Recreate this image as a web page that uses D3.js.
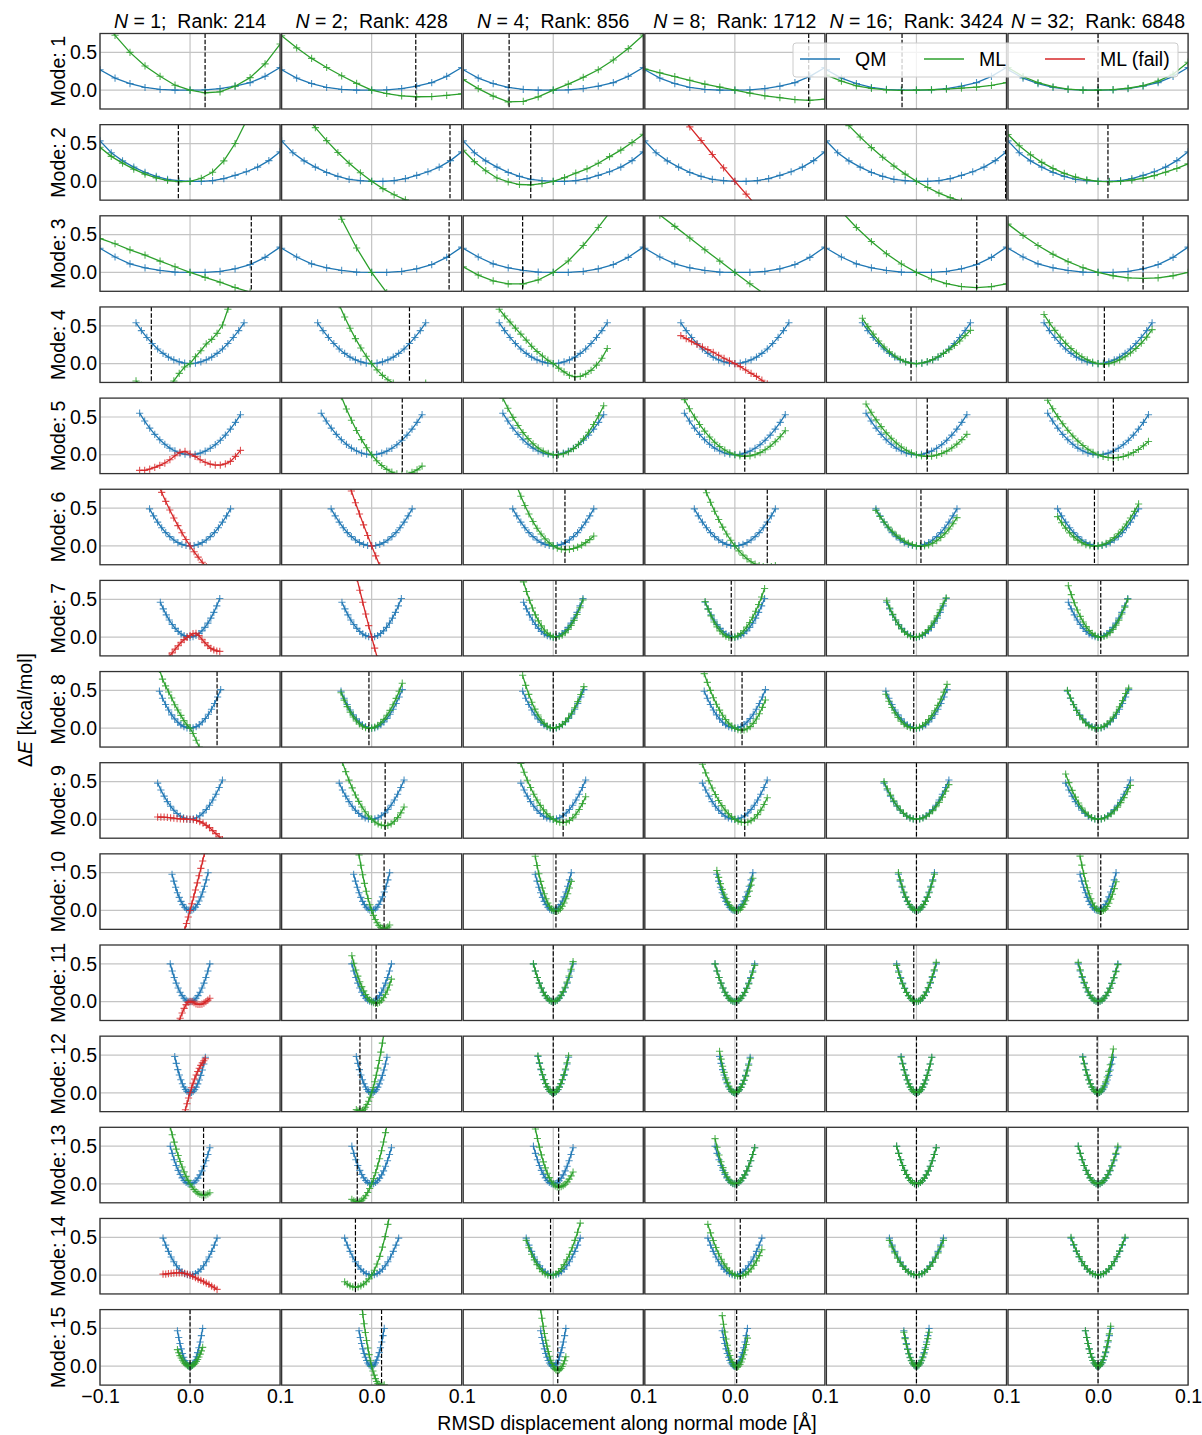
<!DOCTYPE html>
<html><head><meta charset="utf-8">
<script src="https://cdn.jsdelivr.net/npm/d3@7"></script>
<style>body{margin:0;background:#fff} text{font-family:"Liberation Sans",Arial,sans-serif}</style>
</head><body><svg id="c" width="1202" height="1435"></svg>
<script>
const modes = [1,2,3,4,5,6,7,8,9,10,11,12,13,14,15];
const nValues = [1,2,4,8,16,32];
const ranks = [214,428,856,1712,3424,6848];
const xTicks = [-0.1,0,0.1];
const yTicks = [0,0.5];

const displacement = [
 [-0.1,-0.0833,-0.0667,-0.05,-0.0333,-0.0167,0,0.0167,0.0333,0.05,0.0667,0.0833,0.1],
 [-0.1,-0.0875,-0.075,-0.0625,-0.05,-0.0375,-0.025,-0.0125,0,0.0125,0.025,0.0375,0.05,0.0625,0.075,0.0875,0.1],
 [-0.1,-0.0833,-0.0667,-0.05,-0.0333,-0.0167,0,0.0167,0.0333,0.05,0.0667,0.0833,0.1],
 [-0.06,-0.054,-0.048,-0.042,-0.036,-0.03,-0.024,-0.018,-0.012,-0.006,0,0.006,0.012,0.018,0.024,0.03,0.036,0.042,0.048,0.054,0.06],
 [-0.056,-0.0504,-0.0448,-0.0392,-0.0336,-0.028,-0.0224,-0.0168,-0.0112,-0.0056,0,0.0056,0.0112,0.0168,0.0224,0.028,0.0336,0.0392,0.0448,0.0504,0.056],
 [-0.045,-0.0405,-0.036,-0.0315,-0.027,-0.0225,-0.018,-0.0135,-0.009,-0.0045,0,0.0045,0.009,0.0135,0.018,0.0225,0.027,0.0315,0.036,0.0405,0.045],
 [-0.033,-0.0297,-0.0264,-0.0231,-0.0198,-0.0165,-0.0132,-0.0099,-0.0066,-0.0033,0,0.0033,0.0066,0.0099,0.0132,0.0165,0.0198,0.0231,0.0264,0.0297,0.033],
 [-0.034,-0.0306,-0.0272,-0.0238,-0.0204,-0.017,-0.0136,-0.0102,-0.0068,-0.0034,0,0.0034,0.0068,0.0102,0.0136,0.017,0.0204,0.0238,0.0272,0.0306,0.034],
 [-0.036,-0.0324,-0.0288,-0.0252,-0.0216,-0.018,-0.0144,-0.0108,-0.0072,-0.0036,0,0.0036,0.0072,0.0108,0.0144,0.018,0.0216,0.0252,0.0288,0.0324,0.036],
 [-0.02,-0.018,-0.016,-0.014,-0.012,-0.01,-0.008,-0.006,-0.004,-0.002,0,0.002,0.004,0.006,0.008,0.01,0.012,0.014,0.016,0.018,0.02],
 [-0.022,-0.0198,-0.0176,-0.0154,-0.0132,-0.011,-0.0088,-0.0066,-0.0044,-0.0022,0,0.0022,0.0044,0.0066,0.0088,0.011,0.0132,0.0154,0.0176,0.0198,0.022],
 [-0.017,-0.0153,-0.0136,-0.0119,-0.0102,-0.0085,-0.0068,-0.0051,-0.0034,-0.0017,0,0.0017,0.0034,0.0051,0.0068,0.0085,0.0102,0.0119,0.0136,0.0153,0.017],
 [-0.022,-0.0198,-0.0176,-0.0154,-0.0132,-0.011,-0.0088,-0.0066,-0.0044,-0.0022,0,0.0022,0.0044,0.0066,0.0088,0.011,0.0132,0.0154,0.0176,0.0198,0.022],
 [-0.03,-0.027,-0.024,-0.021,-0.018,-0.015,-0.012,-0.009,-0.006,-0.003,0,0.003,0.006,0.009,0.012,0.015,0.018,0.021,0.024,0.027,0.03],
 [-0.014,-0.0126,-0.0112,-0.0098,-0.0084,-0.007,-0.0056,-0.0042,-0.0028,-0.0014,0,0.0014,0.0028,0.0042,0.0056,0.007,0.0084,0.0098,0.0112,0.0126,0.014]
];

const qmEnergy = [
 [0.27,0.16,0.087,0.035,0.009,0.0,0,0.004,0.02,0.052,0.1,0.183,0.3],
 [0.535,0.378,0.27,0.187,0.117,0.065,0.026,0.009,0,0,0.009,0.035,0.078,0.126,0.187,0.274,0.39],
 [0.32,0.204,0.113,0.061,0.026,0.004,0,0,0.013,0.048,0.104,0.2,0.335],
 [0.54,0.437,0.346,0.265,0.194,0.135,0.086,0.049,0.022,0.005,0,0.005,0.022,0.049,0.086,0.135,0.194,0.265,0.346,0.437,0.54],
 [0.55,0.446,0.352,0.27,0.198,0.138,0.088,0.05,0.022,0.006,0,0.005,0.021,0.048,0.085,0.133,0.191,0.26,0.339,0.429,0.53],
 [0.49,0.397,0.314,0.24,0.176,0.123,0.078,0.044,0.02,0.005,0,0.005,0.02,0.044,0.078,0.123,0.176,0.24,0.314,0.397,0.49],
 [0.46,0.373,0.294,0.225,0.166,0.115,0.074,0.041,0.018,0.005,0,0.005,0.02,0.046,0.082,0.128,0.184,0.25,0.326,0.413,0.51],
 [0.49,0.397,0.314,0.24,0.176,0.123,0.078,0.044,0.02,0.005,0,0.005,0.02,0.046,0.082,0.128,0.184,0.25,0.326,0.413,0.51],
 [0.48,0.389,0.307,0.235,0.173,0.12,0.077,0.043,0.019,0.005,0,0.005,0.021,0.047,0.083,0.13,0.187,0.255,0.333,0.421,0.52],
 [0.48,0.389,0.307,0.235,0.173,0.12,0.077,0.043,0.019,0.005,0,0.005,0.02,0.045,0.08,0.125,0.18,0.245,0.32,0.405,0.5],
 [0.5,0.405,0.32,0.245,0.18,0.125,0.08,0.045,0.02,0.005,0,0.005,0.02,0.045,0.08,0.125,0.18,0.245,0.32,0.405,0.5],
 [0.48,0.389,0.307,0.235,0.173,0.12,0.077,0.043,0.019,0.005,0,0.005,0.019,0.042,0.075,0.118,0.169,0.23,0.301,0.381,0.47],
 [0.5,0.405,0.32,0.245,0.18,0.125,0.08,0.045,0.02,0.005,0,0.005,0.019,0.043,0.077,0.12,0.173,0.235,0.307,0.389,0.48],
 [0.49,0.397,0.314,0.24,0.176,0.123,0.078,0.044,0.02,0.005,0,0.005,0.02,0.044,0.078,0.123,0.176,0.24,0.314,0.397,0.49],
 [0.47,0.381,0.301,0.23,0.169,0.118,0.075,0.042,0.019,0.005,0,0.005,0.02,0.045,0.08,0.125,0.18,0.245,0.32,0.405,0.5]
];

const mlEnergy = [
 [ [0.98,0.726,0.5,0.32,0.183,0.065,0,-0.035,-0.022,0.052,0.165,0.348,0.61],
   [0.72,0.56,0.42,0.3,0.19,0.09,0,-0.045,-0.075,-0.088,-0.085,-0.07,-0.05],
   [0.14,0.02,-0.08,-0.155,-0.15,-0.09,0,0.08,0.17,0.27,0.4,0.55,0.73],
   [0.28,0.23,0.18,0.13,0.08,0.04,0,-0.04,-0.075,-0.1,-0.125,-0.135,-0.12],
   [0.2,0.118,0.057,0.022,0.003,-0.004,0,0.005,0.013,0.026,0.04,0.062,0.1],
   [0.3,0.18,0.1,0.045,0.012,0.0,0,0.006,0.025,0.06,0.12,0.21,0.37] ],
 [ [0.45,0.33,0.24,0.16,0.095,0.045,0.01,-0.005,0,0.04,0.12,0.27,0.5,0.8,1.15,1.5,1.9],
   [1.315,1.098,0.896,0.71,0.538,0.381,0.239,0.112,0,-0.097,-0.179,-0.246,-0.298,-0.335,-0.356,-0.363,-0.355],
   [0.41,0.26,0.14,0.043,-0.009,-0.043,-0.048,-0.03,0,0.048,0.109,0.165,0.239,0.326,0.413,0.513,0.622],
   [1.5,1.3,1.1,0.91,0.72,0.54,0.355,0.177,0,-0.17,-0.34,-0.5,-0.67,-0.83,-1.0,-1.17,-1.33],
   [1.073,0.899,0.737,0.586,0.446,0.318,0.201,0.095,0,-0.083,-0.156,-0.217,-0.266,-0.305,-0.332,-0.348,-0.353],
   [0.62,0.47,0.35,0.25,0.17,0.105,0.055,0.02,0,-0.005,0.0,0.015,0.04,0.075,0.12,0.17,0.23] ],
 [ [0.45,0.38,0.3,0.23,0.15,0.075,0,-0.065,-0.13,-0.2,-0.26,-0.3,-0.33],
   [2.8,2.19,1.64,1.143,0.705,0.324,0,-0.267,-0.48,-0.63,-0.72,-0.76,-0.74],
   [0.074,-0.035,-0.113,-0.152,-0.152,-0.1,0,0.152,0.357,0.596,0.857,1.15,1.47],
   [0.92,0.76,0.61,0.455,0.3,0.15,0,-0.15,-0.29,-0.43,-0.56,-0.69,-0.8],
   [1.041,0.806,0.596,0.409,0.248,0.112,0,-0.087,-0.149,-0.187,-0.2,-0.188,-0.151],
   [0.64,0.489,0.356,0.24,0.142,0.062,0,-0.044,-0.071,-0.08,-0.071,-0.044,0] ],
 [ [-0.23,-0.29,-0.34,-0.37,-0.38,-0.36,-0.31,-0.23,-0.13,-0.045,0,0.09,0.17,0.26,0.32,0.4,0.51,0.72,0.95,1.2,1.45],
   [1.555,1.341,1.14,0.953,0.778,0.616,0.467,0.33,0.207,0.097,0,-0.084,-0.156,-0.214,-0.259,-0.292,-0.311,-0.318,-0.311,-0.292,-0.259],
   [0.72,0.63,0.55,0.47,0.39,0.31,0.23,0.16,0.1,0.045,0,-0.06,-0.11,-0.155,-0.175,-0.17,-0.14,-0.09,-0.02,0.07,0.2],
   [0.37,0.33,0.29,0.255,0.22,0.185,0.15,0.11,0.07,0.035,0,-0.04,-0.085,-0.13,-0.17,-0.22,-0.27,-0.32,-0.37,-0.42,-0.47],
   [0.6,0.49,0.39,0.3,0.22,0.155,0.1,0.055,0.022,0.004,0,0.007,0.025,0.052,0.09,0.135,0.185,0.24,0.3,0.37,0.44],
   [0.65,0.54,0.44,0.35,0.27,0.2,0.14,0.09,0.05,0.02,0,-0.005,0.0,0.02,0.05,0.09,0.14,0.2,0.27,0.35,0.45] ],
 [ [-0.207,-0.207,-0.19,-0.168,-0.141,-0.11,-0.066,-0.013,0.031,0.044,0.01,-0.022,-0.066,-0.1,-0.124,-0.137,-0.137,-0.12,-0.088,-0.022,0.057],
   [1.562,1.343,1.137,0.946,0.768,0.605,0.456,0.321,0.2,0.093,0,-0.079,-0.143,-0.194,-0.23,-0.252,-0.26,-0.254,-0.234,-0.2,-0.151],
   [0.75,0.615,0.495,0.388,0.294,0.213,0.145,0.09,0.048,0.019,0,0,0.012,0.039,0.081,0.138,0.21,0.297,0.4,0.517,0.649],
   [0.73,0.609,0.5,0.401,0.312,0.234,0.166,0.109,0.062,0.026,0,-0.015,-0.02,-0.015,0.001,0.028,0.065,0.113,0.171,0.239,0.318],
   [0.672,0.562,0.462,0.372,0.29,0.218,0.156,0.103,0.059,0.025,0,-0.015,-0.022,-0.018,-0.005,0.017,0.048,0.089,0.14,0.2,0.269],
   [0.721,0.608,0.505,0.41,0.325,0.248,0.181,0.122,0.072,0.032,0,-0.023,-0.037,-0.041,-0.037,-0.024,-0.002,0.029,0.069,0.118,0.176] ],
 [ [1.1,0.963,0.832,0.708,0.589,0.476,0.369,0.268,0.173,0.084,0,-0.078,-0.149,-0.216,-0.275,-0.33,-0.377,-0.42,-0.456,-0.487,-0.512],
   [1.55,1.379,1.21,1.044,0.883,0.726,0.572,0.423,0.278,0.137,0,-0.133,-0.262,-0.387,-0.508,-0.624,-0.737,-0.846,-0.95,-1.05,-1.15],
   [0.942,0.794,0.658,0.534,0.422,0.322,0.233,0.157,0.093,0.04,0,-0.029,-0.045,-0.05,-0.046,-0.034,-0.016,0.01,0.043,0.083,0.13],
   [1.137,0.984,0.84,0.704,0.577,0.459,0.35,0.249,0.157,0.074,0,-0.066,-0.122,-0.171,-0.21,-0.241,-0.262,-0.276,-0.28,-0.276,-0.262],
   [0.47,0.389,0.316,0.25,0.193,0.142,0.099,0.064,0.037,0.017,0,-0.004,-0.001,0.012,0.035,0.068,0.11,0.161,0.223,0.294,0.374],
   [0.388,0.306,0.235,0.172,0.119,0.076,0.042,0.017,0.002,-0.004,0,0.013,0.035,0.067,0.109,0.16,0.22,0.29,0.369,0.457,0.555] ],
 [ [-0.42,-0.36,-0.31,-0.26,-0.21,-0.16,-0.115,-0.07,-0.035,-0.005,0.02,0.045,0.05,0.02,-0.03,-0.075,-0.115,-0.15,-0.17,-0.185,-0.19],
   [1.65,1.469,1.293,1.12,0.95,0.784,0.62,0.461,0.304,0.151,0,-0.147,-0.29,-0.431,-0.568,-0.702,-0.83,-0.95,-1.07,-1.18,-1.3],
   [0.73,0.602,0.487,0.384,0.293,0.214,0.148,0.094,0.052,0.022,0,0,0.007,0.026,0.057,0.099,0.154,0.22,0.298,0.388,0.49],
   [0.47,0.37,0.28,0.2,0.135,0.081,0.04,0.012,-0.004,-0.008,0,0.017,0.045,0.084,0.133,0.192,0.261,0.341,0.431,0.531,0.642],
   [0.48,0.385,0.3,0.225,0.16,0.107,0.065,0.033,0.011,0.0,0,0.01,0.03,0.06,0.1,0.15,0.21,0.28,0.36,0.44,0.52],
   [0.68,0.561,0.454,0.358,0.273,0.2,0.138,0.087,0.048,0.021,0,0,0.007,0.026,0.058,0.101,0.157,0.224,0.304,0.396,0.5] ],
 [ [0.78,0.65,0.56,0.48,0.4,0.31,0.24,0.17,0.1,0.045,0,-0.07,-0.16,-0.25,-0.33,-0.41,-0.48,-0.55,-0.61,-0.67,-0.72],
   [0.47,0.372,0.286,0.212,0.148,0.096,0.055,0.025,0.007,-0.004,0,0.014,0.038,0.072,0.117,0.171,0.236,0.31,0.395,0.49,0.596],
   [0.7,0.567,0.448,0.343,0.252,0.175,0.112,0.063,0.028,0.007,0,0.006,0.022,0.05,0.088,0.138,0.198,0.27,0.352,0.446,0.55],
   [0.723,0.606,0.5,0.403,0.316,0.239,0.171,0.114,0.066,0.028,0,-0.018,-0.027,-0.024,-0.008,0.021,0.064,0.121,0.191,0.275,0.373],
   [0.45,0.356,0.274,0.203,0.142,0.092,0.053,0.024,0.006,-0.003,0,0.013,0.036,0.07,0.113,0.166,0.229,0.302,0.385,0.478,0.58],
   [0.5,0.4,0.31,0.235,0.168,0.112,0.068,0.034,0.012,0.001,0,0.008,0.027,0.057,0.097,0.148,0.21,0.282,0.365,0.46,0.53] ],
 [ [0.03,0.03,0.028,0.025,0.02,0.015,0.01,0.006,0.003,0.001,0,-0.005,-0.015,-0.03,-0.05,-0.08,-0.11,-0.15,-0.19,-0.23,-0.27],
   [0.886,0.754,0.632,0.519,0.416,0.322,0.238,0.164,0.1,0.045,0,-0.036,-0.061,-0.077,-0.084,-0.079,-0.06,-0.026,0.023,0.086,0.163],
   [0.739,0.624,0.518,0.421,0.333,0.255,0.185,0.125,0.074,0.032,0,-0.024,-0.038,-0.043,-0.037,-0.016,0.019,0.068,0.131,0.208,0.3],
   [0.73,0.615,0.51,0.415,0.328,0.25,0.182,0.123,0.073,0.032,0,-0.024,-0.038,-0.043,-0.038,-0.018,0.015,0.062,0.122,0.196,0.285],
   [0.5,0.405,0.32,0.245,0.18,0.125,0.08,0.045,0.02,0.005,0,0.005,0.018,0.041,0.074,0.115,0.166,0.225,0.294,0.373,0.46],
   [0.6,0.486,0.384,0.294,0.216,0.15,0.096,0.054,0.024,0.006,0,0.005,0.018,0.041,0.072,0.113,0.162,0.221,0.288,0.365,0.45] ],
 [ [-0.8,-0.727,-0.653,-0.577,-0.499,-0.42,-0.339,-0.257,-0.173,-0.087,0,0.089,0.179,0.271,0.365,0.46,0.557,0.655,0.755,0.857,0.96],
   [1.2,1.034,0.879,0.734,0.599,0.474,0.359,0.254,0.159,0.075,0,-0.065,-0.119,-0.163,-0.198,-0.222,-0.236,-0.24,-0.234,-0.218,-0.192],
   [0.718,0.596,0.486,0.386,0.298,0.221,0.155,0.099,0.055,0.022,0,-0.011,-0.011,0,0.022,0.055,0.099,0.155,0.221,0.298,0.386],
   [0.53,0.438,0.355,0.28,0.215,0.158,0.11,0.07,0.039,0.018,0,-0.004,0.001,0.017,0.044,0.081,0.129,0.187,0.256,0.336,0.426],
   [0.5,0.405,0.32,0.245,0.18,0.125,0.08,0.045,0.02,0.005,0,0.005,0.019,0.043,0.077,0.12,0.173,0.235,0.307,0.389,0.48],
   [0.72,0.6,0.49,0.39,0.3,0.222,0.155,0.099,0.055,0.022,0,-0.011,-0.011,0,0.021,0.053,0.096,0.15,0.215,0.29,0.38] ],
 [ [-0.6,-0.52,-0.44,-0.36,-0.28,-0.22,-0.15,-0.09,-0.04,-0.01,0.005,0,-0.015,-0.03,-0.037,-0.038,-0.032,-0.02,0,0.02,0.045],
   [0.608,0.509,0.419,0.338,0.264,0.199,0.143,0.094,0.054,0.023,0,-0.015,-0.022,-0.019,-0.006,0.018,0.052,0.098,0.154,0.22,0.298],
   [0.5,0.405,0.32,0.245,0.18,0.125,0.08,0.045,0.02,0.005,0,0.005,0.021,0.048,0.085,0.133,0.191,0.26,0.339,0.429,0.53],
   [0.5,0.405,0.32,0.245,0.18,0.125,0.08,0.045,0.02,0.005,0,0.005,0.019,0.043,0.077,0.12,0.173,0.235,0.307,0.389,0.48],
   [0.48,0.389,0.307,0.235,0.173,0.12,0.077,0.043,0.019,0.005,0,0.005,0.021,0.047,0.083,0.13,0.187,0.255,0.333,0.421,0.52],
   [0.52,0.421,0.333,0.255,0.187,0.13,0.083,0.047,0.021,0.005,0,0.005,0.02,0.044,0.078,0.123,0.176,0.24,0.314,0.397,0.49] ],
 [ [-0.911,-0.799,-0.692,-0.589,-0.491,-0.398,-0.309,-0.225,-0.145,-0.07,0,0.066,0.127,0.183,0.235,0.282,0.325,0.363,0.396,0.425,0.45],
   [-0.223,-0.239,-0.246,-0.245,-0.235,-0.217,-0.191,-0.156,-0.112,-0.06,0,0.069,0.146,0.232,0.326,0.428,0.539,0.658,0.786,0.922,1.067],
   [0.49,0.397,0.314,0.24,0.176,0.123,0.078,0.044,0.02,0.005,0,0.005,0.02,0.044,0.078,0.123,0.176,0.24,0.314,0.397,0.49],
   [0.55,0.446,0.352,0.27,0.198,0.138,0.088,0.05,0.022,0.006,0,0.005,0.018,0.041,0.072,0.113,0.162,0.221,0.288,0.365,0.45],
   [0.47,0.381,0.301,0.23,0.169,0.118,0.075,0.042,0.019,0.005,0,0.005,0.019,0.042,0.075,0.118,0.169,0.23,0.301,0.381,0.47],
   [0.47,0.381,0.301,0.23,0.169,0.118,0.075,0.042,0.019,0.005,0,0.006,0.023,0.052,0.093,0.145,0.209,0.284,0.371,0.47,0.58] ],
 [ [0.755,0.651,0.553,0.461,0.376,0.298,0.225,0.159,0.1,0.047,0,-0.04,-0.074,-0.102,-0.123,-0.138,-0.146,-0.149,-0.144,-0.133,-0.116],
   [-0.205,-0.225,-0.236,-0.238,-0.231,-0.215,-0.19,-0.156,-0.113,-0.061,0,0.07,0.149,0.237,0.334,0.44,0.555,0.679,0.812,0.953,1.105],
   [0.865,0.728,0.602,0.488,0.385,0.292,0.212,0.142,0.083,0.036,0,-0.025,-0.039,-0.042,-0.036,-0.023,-0.002,0.027,0.063,0.107,0.158],
   [0.6,0.486,0.384,0.294,0.216,0.15,0.096,0.054,0.024,0.006,0,0.005,0.019,0.043,0.077,0.12,0.173,0.235,0.307,0.389,0.48],
   [0.5,0.405,0.32,0.245,0.18,0.125,0.08,0.045,0.02,0.005,0,0.005,0.019,0.043,0.077,0.12,0.173,0.235,0.307,0.389,0.48],
   [0.5,0.405,0.32,0.245,0.18,0.125,0.08,0.045,0.02,0.005,0,0.005,0.02,0.045,0.08,0.125,0.18,0.245,0.32,0.405,0.5] ],
 [ [0.013,0.013,0.018,0.022,0.026,0.03,0.03,0.028,0.022,0.013,0,-0.018,-0.035,-0.053,-0.07,-0.088,-0.106,-0.124,-0.146,-0.168,-0.19],
   [-0.089,-0.12,-0.142,-0.156,-0.16,-0.156,-0.142,-0.12,-0.089,-0.05,0,0.063,0.146,0.248,0.37,0.511,0.672,0.853,1.05,1.27,1.51],
   [0.459,0.361,0.275,0.201,0.138,0.086,0.046,0.017,0,-0.006,0,0.017,0.046,0.086,0.138,0.201,0.275,0.361,0.459,0.568,0.688],
   [0.672,0.559,0.457,0.365,0.282,0.21,0.148,0.096,0.054,0.022,0,-0.012,-0.013,-0.005,0.013,0.042,0.081,0.129,0.188,0.257,0.336],
   [0.46,0.373,0.294,0.225,0.166,0.115,0.074,0.041,0.018,0.005,0,0.005,0.018,0.041,0.074,0.115,0.166,0.225,0.294,0.373,0.46],
   [0.5,0.405,0.32,0.245,0.18,0.125,0.08,0.045,0.02,0.005,0,0.005,0.02,0.045,0.08,0.125,0.18,0.245,0.32,0.405,0.5] ],
 [ [0.22,0.178,0.141,0.108,0.079,0.055,0.035,0.02,0.009,0.002,0,0.003,0.01,0.023,0.04,0.063,0.09,0.123,0.16,0.203,0.25],
   [1.109,0.959,0.818,0.686,0.562,0.447,0.34,0.242,0.153,0.072,0,-0.063,-0.118,-0.164,-0.202,-0.231,-0.251,-0.263,-0.266,-0.261,-0.246],
   [0.75,0.636,0.53,0.433,0.345,0.266,0.195,0.133,0.08,0.036,0,-0.027,-0.045,-0.054,-0.055,-0.047,-0.03,-0.004,0.03,0.073,0.125],
   [0.67,0.556,0.453,0.36,0.277,0.205,0.143,0.092,0.051,0.02,0,-0.01,-0.009,0.002,0.024,0.056,0.098,0.151,0.214,0.288,0.372],
   [0.45,0.365,0.288,0.221,0.162,0.113,0.072,0.041,0.018,0.005,0,0.005,0.018,0.041,0.072,0.113,0.162,0.221,0.288,0.365,0.45],
   [0.47,0.381,0.301,0.23,0.169,0.118,0.075,0.042,0.019,0.005,0,0.005,0.021,0.048,0.085,0.133,0.191,0.26,0.339,0.429,0.53] ]
];

const mlFailed = [
 [0,0,0,0,0,0],[0,0,0,1,0,0],[0,0,0,0,0,0],[0,0,0,1,0,0],[1,0,0,0,0,0],
 [1,1,0,0,0,0],[1,1,0,0,0,0],[0,0,0,0,0,0],[1,0,0,0,0,0],[1,0,0,0,0,0],
 [1,0,0,0,0,0],[1,0,0,0,0,0],[0,0,0,0,0,0],[1,0,0,0,0,0],[0,0,0,0,0,0]
];

const mlMinimum = [
 [0.0167,0.049,-0.049,0.082,-0.016,0.0],
 [-0.013,0.087,-0.025,null,0.099,0.011],
 [0.068,0.086,-0.034,null,0.067,0.05],
 [-0.043,0.042,0.024,null,-0.006,0.007],
 [null,0.034,0.004,0.011,0.012,0.017],
 [null,null,0.013,0.036,0.005,-0.004],
 [null,null,0.003,-0.004,-0.003,0.003],
 [0.03,-0.003,0.0,0.008,-0.003,-0.002],
 [null,0.015,0.011,0.011,0,0],
 [null,0.0138,0.003,0.002,0,0.003],
 [null,0.005,0,0.002,-0.003,0],
 [null,-0.013,0,0.002,0,-0.001],
 [0.015,-0.016,0.006,0.002,0,0],
 [null,-0.018,-0.003,0.006,0,0],
 [0,0.011,0.005,0.002,0,0]
];

const colors = {qm:'#1f77b4', ml:'#2ca02c', fail:'#d62728'};

const W = 1202, H = 1435, FS = 19.5;
const left0 = 100, top0 = 33.5, pw = 180.1, gx = 1.5, ph = 75.5, stepY = 91.15;
const x = d3.scaleLinear().domain([-0.1,0.1]).range([0,pw]);
const y = d3.scaleLinear().domain([-0.25,0.75]).range([ph,0]);
const fmt = d3.format('.1f');

const svg = d3.select('#c');
svg.append('rect').attr('width',W).attr('height',H).attr('fill','#fff');
svg.append('defs').append('clipPath').attr('id','pc').append('rect').attr('x',0).attr('y',0).attr('width',pw).attr('height',ph);

const line = d3.line().defined(d => d[1] != null && !isNaN(d[1])).x(d => x(d[0])).y(d => y(d[1]));

function drawSeries(g, xs, es, color) {
  const pts = xs.map((v,i) => [v, es[i]]).filter(d => d[1] != null);
  g.append('path').datum(pts).attr('d', line).attr('fill','none').attr('stroke',color).attr('stroke-width',1.3);
  g.append('g').selectAll('path').data(pts).join('path')
    .attr('d','M-3.6,0H3.6M0,-3.6V3.6')
    .attr('transform', d => `translate(${x(d[0])},${y(d[1])})`)
    .attr('stroke',color).attr('stroke-width',1.1).attr('opacity',0.8).attr('fill','none');
}

modes.forEach((m, r) => {
  nValues.forEach((n, c) => {
    const g = svg.append('g').attr('transform', `translate(${left0 + c*(pw+gx)},${top0 + r*stepY})`);
    g.selectAll('line.gy').data(yTicks).join('line').attr('class','gy')
      .attr('x1',0).attr('x2',pw).attr('y1',d=>y(d)).attr('y2',d=>y(d))
      .attr('stroke','#c4c4c4').attr('stroke-width',1.2);
    g.selectAll('line.gx').data(xTicks).join('line').attr('class','gx')
      .attr('x1',d=>x(d)).attr('x2',d=>x(d)).attr('y1',0).attr('y2',ph)
      .attr('stroke','#c4c4c4').attr('stroke-width',1.2);
    const pg = g.append('g').attr('clip-path','url(#pc)');
    drawSeries(pg, displacement[r], qmEnergy[r], colors.qm);
    drawSeries(pg, displacement[r], mlEnergy[r][c], mlFailed[r][c] ? colors.fail : colors.ml);
    const mn = mlMinimum[r][c];
    if (mn != null) {
      pg.append('line').attr('x1',x(mn)).attr('x2',x(mn)).attr('y1',0).attr('y2',ph)
        .attr('stroke','#000').attr('stroke-width',1.2).attr('stroke-dasharray','4.4,1.9');
    }
    g.append('rect').attr('x',0).attr('y',0).attr('width',pw).attr('height',ph)
      .attr('fill','none').attr('stroke','#333').attr('stroke-width',1.3);
    if (c === 0) {
      const ay = g.append('g').call(d3.axisLeft(y).tickValues(yTicks).tickFormat(fmt).tickSize(0).tickPadding(3));
      ay.select('.domain').remove();
      ay.selectAll('text').attr('font-size',FS).attr('fill','#000').style('font-family','"Liberation Sans",Arial,sans-serif');
      g.append('text').attr('transform',`translate(-35,${ph/2}) rotate(-90)`)
        .attr('text-anchor','middle').attr('font-size',FS).attr('fill','#000').text(`Mode: ${m}`);
    }
    if (r === modes.length - 1) {
      const ax = g.append('g').attr('transform',`translate(0,${ph})`)
        .call(d3.axisBottom(x).tickValues(c === 0 ? xTicks : xTicks.slice(1)).tickFormat(fmt).tickSize(0).tickPadding(4));
      ax.select('.domain').remove();
      ax.selectAll('text').attr('font-size',FS).attr('fill','#000').style('font-family','"Liberation Sans",Arial,sans-serif');
    }
    if (r === 0) {
      const t = g.append('text').attr('x',pw/2).attr('y',-6).attr('text-anchor','middle')
        .attr('font-size',FS).attr('fill','#000').style('white-space','pre');
      t.append('tspan').attr('font-style','italic').text('N');
      t.append('tspan').text(` = ${n};  Rank: ${ranks[c]}`);
    }
  });
});

// axis titles
const yt = svg.append('text').attr('transform','translate(32,710) rotate(-90)').attr('text-anchor','middle')
  .attr('font-size',FS).attr('fill','#000');
yt.append('tspan').text('Δ');
yt.append('tspan').attr('font-style','italic').text('E');
yt.append('tspan').text(' [kcal/mol]');
svg.append('text').attr('x',627).attr('y',1430).attr('text-anchor','middle').attr('font-size',FS).attr('fill','#000')
  .text('RMSD displacement along normal mode [Å]');

// legend
const lg = svg.append('g');
lg.append('rect').attr('x',793).attr('y',43).attr('width',385).attr('height',34).attr('rx',3)
  .attr('fill','#fff').attr('fill-opacity',0.8).attr('stroke','#cccccc').attr('stroke-width',1);
const legendItems = [['QM',colors.qm,800],['ML',colors.ml,924],['ML (fail)',colors.fail,1045]];
legendItems.forEach(([lab,col,lx]) => {
  lg.append('line').attr('x1',lx).attr('x2',lx+40).attr('y1',59).attr('y2',59).attr('stroke',col).attr('stroke-width',1.3);
  lg.append('text').attr('x',lx+55).attr('y',66).attr('font-size',FS).attr('fill','#000').text(lab);
});
</script></body></html>
